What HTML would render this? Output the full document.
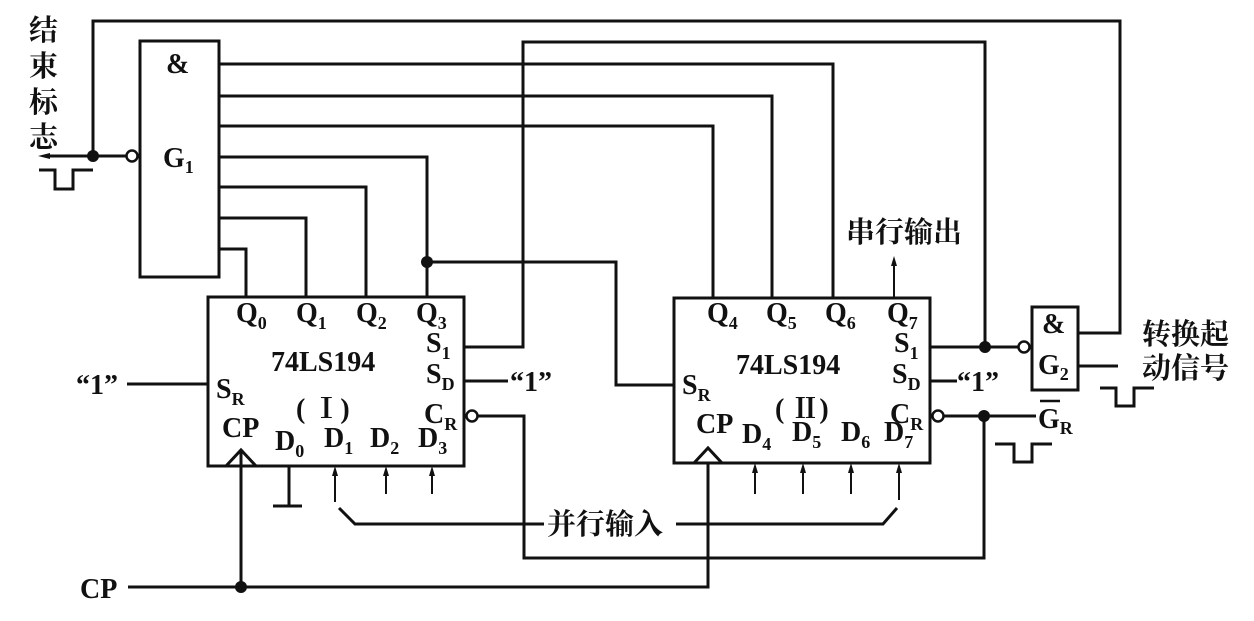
<!DOCTYPE html>
<html><head><meta charset="utf-8"><style>
html,body{margin:0;padding:0;background:#fff}
svg{display:block}
text{font-family:"Liberation Serif","Noto Serif CJK SC",serif;fill:#111}
.c{font-family:"Liberation Serif","Noto Serif CJK SC",serif}
</style></head><body>
<svg width="1254" height="621" viewBox="0 0 1254 621" xmlns="http://www.w3.org/2000/svg">
<g fill="none" stroke="#111" stroke-width="3">
<rect x="140" y="41" width="79" height="236"/>
<rect x="208" y="297" width="256" height="169"/>
<rect x="674" y="298" width="256" height="165"/>
<rect x="1032" y="307" width="46" height="83"/>
<polyline points="93,156 93,21 1120,21 1120,333 1078,333"/>
<polyline points="464,347 523,347 523,42 985,42 985,347"/>
<polyline points="219,64 833,64 833,298"/>
<polyline points="219,96 772,96 772,298"/>
<polyline points="219,126 713,126 713,298"/>
<polyline points="219,157 427,157 427,297"/>
<polyline points="219,187 366,187 366,297"/>
<polyline points="219,218 306,218 306,297"/>
<polyline points="219,249 246,249 246,297"/>
<polyline points="427,262 616,262 616,385 674,385"/>
<line x1="93" y1="156" x2="126" y2="156"/>
<line x1="93" y1="156" x2="48" y2="156"/>
<polyline points="39,170 55,170 55,189 73,189 73,170 93,170"/>
<line x1="127" y1="384" x2="208" y2="384"/>
<line x1="464" y1="381" x2="508" y2="381"/>
<line x1="930" y1="381" x2="957" y2="381"/>
<polyline points="478,416 524,416 524,558 984,558 984,416"/>
<line x1="944" y1="416" x2="1036" y2="416"/>
<line x1="930" y1="347" x2="1018" y2="347"/>
<line x1="1078" y1="366" x2="1118" y2="366"/>
<polyline points="1100,388 1116,388 1116,406 1134,406 1134,388 1154,388"/>
<polyline points="995,444 1014,444 1014,462 1032,462 1032,444 1052,444"/>
<polyline points="226,466 241,450 256,466"/>
<polyline points="694,463 708,448 722,463"/>
<polyline points="128,587 708,587 708,463"/>
<line x1="241" y1="450" x2="241" y2="587"/>
<line x1="289" y1="466" x2="289" y2="506"/>
<line x1="273" y1="506" x2="302" y2="506"/>
<polyline points="339,508 355,524 544,524"/>
<polyline points="676,524 883,524 897,508"/>
</g>
<g stroke="#111" stroke-width="2" fill="none">
<line x1="335" y1="502" x2="335" y2="472"/><line x1="386" y1="494" x2="386" y2="472"/><line x1="432" y1="494" x2="432" y2="472"/>
<line x1="755" y1="494" x2="755" y2="469"/><line x1="803" y1="494" x2="803" y2="469"/><line x1="851" y1="494" x2="851" y2="469"/><line x1="899" y1="500" x2="899" y2="469"/>
<line x1="894" y1="298" x2="894" y2="262"/>
</g>
<g fill="#111">
<polygon points="335,466 332,476 338,476"/><polygon points="386,466 383,476 389,476"/><polygon points="432,466 429,476 435,476"/>
<polygon points="755,463 752,473 758,473"/><polygon points="803,463 800,473 806,473"/><polygon points="851,463 848,473 854,473"/><polygon points="899,463 896,473 902,473"/>
<polygon points="894,256 891,266 897,266"/>
<polygon points="38,156 50,153 50,159"/>
<circle cx="93" cy="156" r="6"/><circle cx="427" cy="262" r="6"/><circle cx="985" cy="347" r="6"/><circle cx="984" cy="416" r="6"/><circle cx="241" cy="587" r="6"/>
</g>
<g fill="#fff" stroke="#111" stroke-width="2.5">
<circle cx="132" cy="156" r="5.5"/><circle cx="472" cy="416" r="5.5"/><circle cx="938" cy="416" r="5.5"/><circle cx="1024" cy="347" r="5.5"/>
</g>
<g font-size="28" font-weight="bold">
<text x="166" y="73">&amp;</text>
<text x="163" y="167">G<tspan font-size="18" dy="6">1</tspan></text>
<text x="236" y="322">Q<tspan font-size="18" dy="7">0</tspan></text>
<text x="296" y="322">Q<tspan font-size="18" dy="7">1</tspan></text>
<text x="356" y="322">Q<tspan font-size="18" dy="7">2</tspan></text>
<text x="416" y="322">Q<tspan font-size="18" dy="7">3</tspan></text>
<text x="271" y="371">74LS194</text>
<text x="296" y="418">( Ⅰ)</text>
<text x="216" y="398">S<tspan font-size="18" dy="7">R</tspan></text>
<text x="222" y="437">CP</text>
<text x="275" y="450">D<tspan font-size="18" dy="7">0</tspan></text>
<text x="324" y="447">D<tspan font-size="18" dy="7">1</tspan></text>
<text x="370" y="447">D<tspan font-size="18" dy="7">2</tspan></text>
<text x="418" y="447">D<tspan font-size="18" dy="7">3</tspan></text>
<text x="426" y="352">S<tspan font-size="18" dy="7">1</tspan></text>
<text x="426" y="383">S<tspan font-size="18" dy="7">D</tspan></text>
<text x="424" y="423">C<tspan font-size="18" dy="7">R</tspan></text>
<text x="76" y="394">“1”</text>
<text x="510" y="391">“1”</text>
<text x="707" y="322">Q<tspan font-size="18" dy="7">4</tspan></text>
<text x="766" y="322">Q<tspan font-size="18" dy="7">5</tspan></text>
<text x="825" y="322">Q<tspan font-size="18" dy="7">6</tspan></text>
<text x="887" y="322">Q<tspan font-size="18" dy="7">7</tspan></text>
<text x="736" y="374">74LS194</text>
<text x="775" y="418">( Ⅱ)</text>
<text x="682" y="394">S<tspan font-size="18" dy="7">R</tspan></text>
<text x="696" y="433">CP</text>
<text x="742" y="443">D<tspan font-size="18" dy="7">4</tspan></text>
<text x="792" y="441">D<tspan font-size="18" dy="7">5</tspan></text>
<text x="841" y="441">D<tspan font-size="18" dy="7">6</tspan></text>
<text x="884" y="441">D<tspan font-size="18" dy="7">7</tspan></text>
<text x="894" y="352">S<tspan font-size="18" dy="7">1</tspan></text>
<text x="892" y="383">S<tspan font-size="18" dy="7">D</tspan></text>
<text x="890" y="423">C<tspan font-size="18" dy="7">R</tspan></text>
<text x="957" y="391">“1”</text>
<text x="1042" y="333">&amp;</text>
<text x="1038" y="374">G<tspan font-size="18" dy="6">2</tspan></text>
<text x="1038" y="428">G<tspan font-size="18" dy="6">R</tspan></text>
<text x="80" y="598">CP</text>
</g>
<line x1="1040" y1="401" x2="1060" y2="401" stroke="#111" stroke-width="2.5"/>
<g font-size="29" class="c" font-weight="bold">
<text x="29" y="40">结</text><text x="29" y="76">束</text><text x="29" y="112">标</text><text x="29" y="147">志</text>
<text x="547" y="534">并行输入</text>
<text x="846" y="242">串行输出</text>
<text x="1142" y="344">转换起</text>
<text x="1142" y="378">动信号</text>
</g>
</svg>
</body></html>
